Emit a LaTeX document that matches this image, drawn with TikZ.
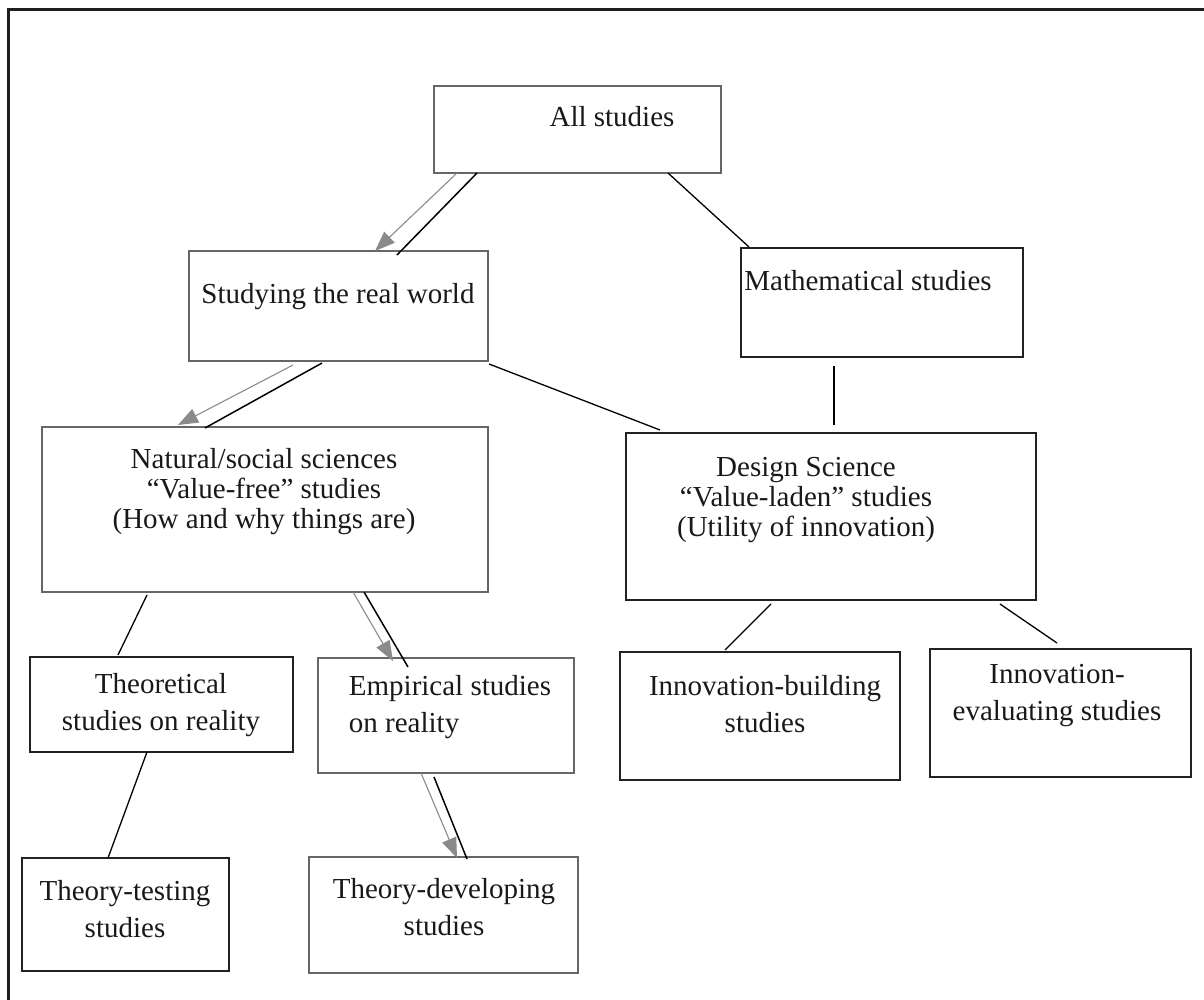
\documentclass[tikz,border=0pt]{standalone}
\usepackage{fontspec}
\setmainfont{Liberation Serif}
\usetikzlibrary{arrows.meta}
\definecolor{gbord}{HTML}{666666}
\definecolor{kbord}{HTML}{222222}
\definecolor{garrow}{HTML}{8A8A8A}
\begin{document}
\begin{tikzpicture}[x=1pt,y=-1pt,
  gbox/.style={draw=gbord,line width=2.4pt,inner sep=0pt,outer sep=0pt},
  kbox/.style={draw=kbord,line width=2.4pt,inner sep=0pt,outer sep=0pt},
  txt/.style={font=\fontsize{29}{37}\selectfont,align=center,inner sep=0pt,text=black!90},
  tight/.style={font=\fontsize{29}{30}\selectfont},
  link/.style={draw=black,line width=1.3pt},
  garr/.style={draw=garrow,line width=1.1pt,-{Triangle[length=20pt,width=15pt]},color=garrow},
  blk/.style={draw=black,line width=1.5pt}]
\useasboundingbox (0,0) rectangle (1204,1000);
% outer frame (top and left only)
\draw[line width=3pt,color=black!88] (1204,10) -- (8,10) -- (8,1000);

% boxes
\node[gbox,minimum width=287pt,minimum height=87pt] (all) at (577.5,129.5) {};
\node[txt] (allt) at (612,117) {All studies};

\node[gbox,minimum width=299pt,minimum height=110pt] (real) at (338.5,306) {};
\node[txt] (realt) at (338,297) {Studying the real world};

\node[kbox,minimum width=282pt,minimum height=109pt] (math) at (882,302.5) {};
\node[txt] (matht) at (868,281) {Mathematical studies};

\node[gbox,minimum width=446pt,minimum height=165pt] (nat) at (265,509.5) {};
\node[txt,tight] (natt) at (264,492) {Natural/social sciences\\``Value-free'' studies\\(How and why things are)};

\node[kbox,minimum width=410pt,minimum height=167pt] (des) at (831,516.5) {};
\node[txt,tight] (dest) at (806,500) {Design Science\\``Value-laden'' studies\\(Utility of innovation)};

\node[kbox,minimum width=263pt,minimum height=95pt] (theo) at (161.5,704.5) {};
\node[txt] (theot) at (161,705) {Theoretical\\studies on reality};

\node[gbox,minimum width=256pt,minimum height=115pt] (emp) at (446,715.5) {};
\node[txt,align=left] (empt) at (450,707) {Empirical studies\\on reality};

\node[kbox,minimum width=207pt,minimum height=113pt] (tt) at (125.5,914.5) {};
\node[txt] (ttt) at (125,909) {Theory-testing\\studies};

\node[gbox,minimum width=269pt,minimum height=116pt] (td) at (443.5,915) {};
\node[txt] (tdt) at (444,907) {Theory-developing\\studies};

\node[kbox,minimum width=280pt,minimum height=128pt] (ib) at (760,716) {};
\node[txt] (ibt) at (765,704) {Innovation-building\\studies};

\node[kbox,minimum width=261pt,minimum height=128pt] (ie) at (1060.5,713) {};
\node[txt] (iet) at (1057,696) {Innovation-\\evaluating studies};

% double arrows (gray arrow + black line)
\draw[garr] ([xshift=23pt]all.south west) -- ([xshift=186pt]real.north west);
\draw[blk] ([xshift=43pt]all.south west) -- ([xshift=208pt,yshift=-4pt]real.north west);

\draw[garr] ([xshift=104pt,yshift=-4pt]real.south west) -- ([xshift=136pt,yshift=2pt]nat.north west);
\draw[blk] ([xshift=133pt,yshift=-2pt]real.south west) -- ([xshift=163pt,yshift=-1pt]nat.north west);

\draw[garr] ([xshift=311pt]nat.south west) -- ([xshift=75pt,yshift=-3pt]emp.north west);
\draw[blk] ([xshift=322pt]nat.south west) -- ([xshift=90pt,yshift=-9pt]emp.north west);

\draw[garr] ([xshift=103pt]emp.south west) -- ([xshift=148pt,yshift=-1pt]td.north west);
\draw[blk] ([xshift=116pt,yshift=-4pt]emp.south west) -- ([xshift=158pt,yshift=-2pt]td.north west);

% plain links
\draw[link] ([xshift=234pt]all.south west) -- ([xshift=8pt,yshift=1pt]math.north west);
\draw[link] ([xshift=1pt,yshift=-3pt]real.south east) -- ([xshift=34pt,yshift=3pt]des.north west);
\draw[link] ([xshift=-48pt,yshift=-9pt]math.south) -- ([xshift=3pt,yshift=8pt]des.north);
\draw[link] ([xshift=105pt,yshift=-3pt]nat.south west) -- ([xshift=88pt,yshift=2pt]theo.north west);
\draw[link] ([xshift=117pt]theo.south west) -- ([xshift=86pt]tt.north west);
\draw[link] ([xshift=145pt,yshift=-4pt]des.south west) -- ([xshift=105pt,yshift=2pt]ib.north west);
\draw[link] ([xshift=374pt,yshift=-4pt]des.south west) -- ([xshift=127pt,yshift=6pt]ie.north west);
\end{tikzpicture}
\end{document}
